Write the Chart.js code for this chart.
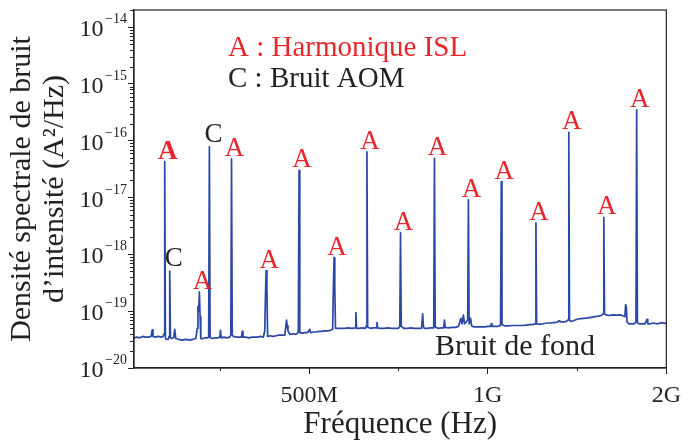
<!DOCTYPE html>
<html>
<head>
<meta charset="utf-8">
<script src="https://cdn.jsdelivr.net/npm/chart.js@4.4.1/dist/chart.umd.min.js"></script>
<style>
  html, body { margin: 0; padding: 0; background: #fff; }
  #wrap { width: 688px; height: 447px; position: relative; }
</style>
</head>
<body>
<div id="wrap"><canvas id="psdChart"></canvas></div>
<script>
// Spectre de bruit d'intensité (fréquence en MHz, DSP en A²/Hz)
const freqMHz = [
  10, 18, 26, 34, 42, 50, 58, 61, 63, 70,
  78, 86, 92, 94, 96, 98, 100, 106, 108, 110,
  112, 116, 121, 124, 127, 135, 145, 155, 165, 175,
  183, 187, 189, 191, 193, 195, 197, 203, 210, 217,
  219, 221, 223, 230, 238, 245, 250, 252, 254, 262,
  270, 278, 281, 283, 285, 288, 296, 304, 311, 313,
  315, 323, 332, 340, 348, 356, 364, 372, 376, 378,
  380, 382, 384, 392, 400, 408, 416, 424, 432, 437,
  439, 441, 446, 455, 463, 468, 470, 472, 474, 480,
  488, 496, 502, 504, 512, 520, 528, 536, 544, 552,
  560, 566, 568, 570, 572, 574, 580, 590, 600, 610,
  620, 629, 631, 633, 640, 650, 658, 660, 662, 664,
  672, 680, 688, 690, 692, 700, 710, 720, 730, 740,
  750, 754, 756, 758, 765, 775, 785, 795, 805, 815,
  818, 820, 822, 830, 840, 847, 849, 851, 853, 860,
  870, 877, 879, 881, 890, 900, 910, 918, 922, 925,
  928, 932, 935, 940, 944, 946, 948, 952, 955, 962,
  972, 982, 992, 1000, 1008, 1010, 1012, 1020, 1028, 1034,
  1036, 1038, 1040, 1048, 1058, 1068, 1078, 1088, 1098, 1108,
  1118, 1126, 1133, 1135, 1137, 1145, 1155, 1165, 1175, 1185,
  1195, 1200, 1205, 1213, 1220, 1225, 1227, 1229, 1232, 1240,
  1250, 1260, 1270, 1280, 1290, 1300, 1310, 1318, 1323, 1325,
  1327, 1332, 1340, 1350, 1360, 1370, 1378, 1384, 1386, 1388,
  1390, 1395, 1402, 1410, 1415, 1417, 1419, 1425, 1432, 1440,
  1446, 1448, 1456, 1464, 1472, 1480, 1488, 1494, 1500
];
const psd = [
  3.4e-20, 3.5e-20, 3.4e-20, 3.6e-20, 3.5e-20, 3.5e-20, 3.6e-20, 4.7e-20, 3.6e-20, 3.5e-20,
  3.6e-20, 3.5e-20, 3.6e-20, 4.0e-20, 4.3e-17, 3.4e-20, 3.2e-20, 3.2e-20, 3.6e-20, 5.1e-19,
  3.4e-20, 3.3e-20, 3.4e-20, 4.8e-20, 3.3e-20, 3.2e-20, 3.1e-20, 3.2e-20, 3.1e-20, 3.2e-20,
  3.3e-20, 5.0e-20, 1.2e-19, 1.0e-19, 2.2e-19, 8.0e-20, 3.3e-20, 3.3e-20, 3.4e-20, 3.4e-20,
  3.6e-20, 7.8e-17, 3.4e-20, 3.3e-20, 3.4e-20, 3.4e-20, 3.5e-20, 4.6e-20, 3.4e-20, 3.5e-20,
  3.4e-20, 3.5e-20, 3.8e-20, 4.8e-17, 3.8e-20, 3.6e-20, 3.5e-20, 3.5e-20, 3.5e-20, 4.4e-20,
  3.5e-20, 3.5e-20, 3.4e-20, 3.5e-20, 3.5e-20, 3.5e-20, 3.6e-20, 3.5e-20, 4.5e-20, 2.0e-19,
  5.2e-19, 2.5e-19, 3.6e-20, 3.7e-20, 3.6e-20, 3.7e-20, 3.8e-20, 3.8e-20, 3.8e-20, 7.0e-20,
  5.5e-20, 4.5e-20, 3.9e-20, 4.0e-20, 3.9e-20, 4.1e-20, 4.5e-20, 3.0e-17, 4.2e-20, 4.1e-20,
  4.2e-20, 4.2e-20, 4.8e-20, 4.2e-20, 4.3e-20, 4.3e-20, 4.4e-20, 4.4e-20, 4.5e-20, 4.5e-20,
  4.6e-20, 4.8e-20, 2.5e-19, 8.8e-19, 2.8e-19, 5.0e-20, 5.0e-20, 5.0e-20, 5.0e-20, 5.1e-20,
  5.0e-20, 5.1e-20, 9.4e-20, 5.0e-20, 5.0e-20, 5.1e-20, 5.0e-20, 5.5e-20, 6.4e-17, 5.2e-20,
  5.0e-20, 5.1e-20, 5.1e-20, 6.3e-20, 5.1e-20, 5.0e-20, 5.0e-20, 5.1e-20, 5.0e-20, 5.0e-20,
  5.0e-20, 5.4e-20, 2.4e-18, 5.4e-20, 5.0e-20, 5.0e-20, 5.1e-20, 5.0e-20, 5.0e-20, 5.0e-20,
  9.0e-20, 5.5e-20, 5.0e-20, 5.0e-20, 5.1e-20, 5.1e-20, 5.5e-20, 4.9e-17, 5.3e-20, 5.0e-20,
  5.1e-20, 5.1e-20, 7.0e-20, 5.2e-20, 5.1e-20, 5.2e-20, 5.2e-20, 5.4e-20, 6.5e-20, 7.5e-20,
  6.0e-20, 8.5e-20, 6.0e-20, 6.5e-20, 7.0e-20, 9.1e-18, 6.0e-20, 7.5e-20, 5.5e-20, 5.3e-20,
  5.3e-20, 5.3e-20, 5.3e-20, 5.4e-20, 5.4e-20, 6.0e-20, 5.4e-20, 5.4e-20, 5.4e-20, 5.5e-20,
  6.0e-20, 1.9e-17, 5.8e-20, 5.5e-20, 5.5e-20, 5.6e-20, 5.6e-20, 5.6e-20, 5.6e-20, 5.7e-20,
  5.8e-20, 5.8e-20, 6.0e-20, 3.6e-18, 6.0e-20, 5.9e-20, 6.0e-20, 6.2e-20, 6.2e-20, 6.3e-20,
  6.4e-20, 6.8e-20, 6.5e-20, 6.5e-20, 6.6e-20, 7.0e-20, 1.4e-16, 7.0e-20, 6.6e-20, 6.8e-20,
  7.2e-20, 7.4e-20, 7.5e-20, 7.6e-20, 7.8e-20, 8.0e-20, 8.2e-20, 8.4e-20, 9.0e-20, 4.5e-18,
  9.0e-20, 8.6e-20, 8.4e-20, 8.6e-20, 8.5e-20, 8.6e-20, 8.3e-20, 8.0e-20, 1.3e-19, 1.2e-19,
  6.5e-20, 6.0e-20, 6.0e-20, 6.0e-20, 6.5e-20, 3.5e-16, 6.2e-20, 6.0e-20, 6.0e-20, 6.0e-20,
  7.2e-20, 6.0e-20, 6.0e-20, 6.2e-20, 6.0e-20, 6.1e-20, 6.3e-20, 6.1e-20, 6.2e-20
];

// Pics annotés : A = harmoniques de l'ISL, C = bruit AOM
const harmonicFreq = [96, 193, 283, 380, 472, 570, 662, 756, 851, 946, 1038, 1135, 1227, 1325, 1417];
const harmonicPsd = [4.3e-17, 2.2e-19, 4.8e-17, 5.2e-19, 3.0e-17, 8.8e-19, 6.4e-17, 2.4e-18, 4.9e-17, 9.1e-18, 1.9e-17, 3.6e-18, 1.4e-16, 4.5e-18, 3.5e-16];
const aomFreq = [110, 221];
const aomPsd = [5.1e-19, 7.8e-17];

// Graduations
const xTickValues = [250, 500, 750, 1000, 1250, 1500];
const xTickLabels = ['', '500M', '', '1G', '', '2G'];
const yDecades = [-20, -19, -18, -17, -16, -15, -14];

const SERIF = "'Liberation Serif', 'DejaVu Serif', serif";
const INK = '#222';
const RED = '#e8262d';

const annotations = {
    id: 'annotations',
    afterDraw(chart) {
        const { ctx, chartArea: area, scales: { x, y } } = chart;
        ctx.save();

        // cadre complet
        ctx.strokeStyle = INK;
        ctx.lineWidth = 1.2;
        ctx.strokeRect(area.left, area.top, area.right - area.left, area.bottom - area.top);

        // petites graduations (y : 2..9 x 10^n, x : non étiquetées)
        ctx.lineWidth = 1;
        ctx.beginPath();
        yDecades.forEach(d => {
            for (let m = 2; m <= 9; m++) {
                const v = m * Math.pow(10, d);
                if (v > y.max) break;
                const py = Math.round(y.getPixelForValue(v)) + 0.5;
                ctx.moveTo(area.left - 4, py);
                ctx.lineTo(area.left, py);
            }
        });
        xTickValues.forEach((v, i) => {
            if (xTickLabels[i] !== '') return;
            const px = Math.round(x.getPixelForValue(v)) + 0.5;
            ctx.moveTo(px, area.bottom);
            ctx.lineTo(px, area.bottom + 3);
        });
        ctx.stroke();

        // étiquettes 10^n
        ctx.fillStyle = INK;
        ctx.textAlign = 'right';
        ctx.textBaseline = 'alphabetic';
        yDecades.forEach(d => {
            const py = y.getPixelForValue(Math.pow(10, d));
            const exp = '\u2212' + Math.abs(d);
            ctx.font = '14px ' + SERIF;
            const w = ctx.measureText(exp).width;
            ctx.fillText(exp, 127, py - 4);
            ctx.font = '24px ' + SERIF;
            ctx.fillText('10', 127 - w - 1.5, py + 9);
        });

        // lettres au-dessus des pics
        ctx.textAlign = 'center';
        harmonicFreq.forEach((f, i) => {
            ctx.font = (i === 0 ? 'bold ' : '') + '27px ' + SERIF;
            ctx.fillStyle = RED;
            ctx.fillText('A', x.getPixelForValue(f) + 3, y.getPixelForValue(harmonicPsd[i]) - 3);
        });
        aomFreq.forEach((f, i) => {
            ctx.font = '27px ' + SERIF;
            ctx.fillStyle = INK;
            ctx.fillText('C', x.getPixelForValue(f) + 4, y.getPixelForValue(aomPsd[i]) - 5);
        });

        // légende et texte
        ctx.textAlign = 'left';
        ctx.font = '29px ' + SERIF;
        ctx.fillStyle = RED;
        ctx.fillText('A : Harmonique ISL', 228, 56);
        ctx.fillStyle = INK;
        ctx.fillText('C : Bruit AOM', 228, 87);
        ctx.font = '30px ' + SERIF;
        ctx.fillText('Bruit de fond', 435, 355);

        ctx.restore();
    }
};

const ctx = document.getElementById('psdChart').getContext('2d');

new Chart(ctx, {
    type: 'line',
    data: {
        datasets: [{
            data: freqMHz.map((f, i) => ({ x: f, y: psd[i] })),
            borderColor: '#2a48a6',
            borderWidth: 1.7,
            borderJoinStyle: 'round',
            pointRadius: 0,
            tension: 0,
            fill: false
        }]
    },
    options: {
        responsive: true,
        maintainAspectRatio: false,
        animation: false,
        layout: { padding: { top: 10, right: 21, left: 0, bottom: 0 } },
        plugins: {
            legend: { display: false },
            tooltip: { enabled: false }
        },
        scales: {
            x: {
                type: 'linear',
                min: 10,
                max: 1500,
                afterBuildTicks: s => { s.ticks = xTickValues.map(v => ({ value: v })); },
                afterFit: s => { s.height = 79; },
                ticks: {
                    autoSkip: false,
                    maxRotation: 0,
                    padding: 7,
                    color: INK,
                    font: { family: SERIF, size: 24 },
                    callback: v => xTickLabels[xTickValues.indexOf(v)]
                },
                grid: {
                    drawOnChartArea: false,
                    tickLength: 6,
                    tickWidth: 1,
                    tickColor: c => (c.tick && xTickLabels[xTickValues.indexOf(c.tick.value)] !== '') ? INK : 'rgba(0,0,0,0)'
                },
                border: { color: INK, width: 1.2 },
                title: {
                    display: true,
                    text: 'Fréquence (Hz)',
                    color: INK,
                    font: { family: SERIF, size: 31, lineHeight: 1.2 },
                    padding: { top: 0, bottom: 4 }
                }
            },
            y: {
                type: 'logarithmic',
                min: 1e-20,
                max: 2e-14,
                afterBuildTicks: s => { s.ticks = yDecades.map(d => ({ value: Math.pow(10, d), major: true })); },
                afterFit: s => { s.width = 134; },
                ticks: { display: false },
                grid: {
                    drawOnChartArea: false,
                    tickLength: 6,
                    tickWidth: 1,
                    tickColor: INK
                },
                border: { color: INK, width: 1.2 },
                title: {
                    display: true,
                    text: ['Densité spectrale de bruit', 'd\u2019intensité (A²/Hz)'],
                    color: INK,
                    font: { family: SERIF, size: 30, lineHeight: 1.1 },
                    padding: { top: 6, bottom: 0 }
                }
            }
        }
    },
    plugins: [annotations]
});
</script>
</body>
</html>
